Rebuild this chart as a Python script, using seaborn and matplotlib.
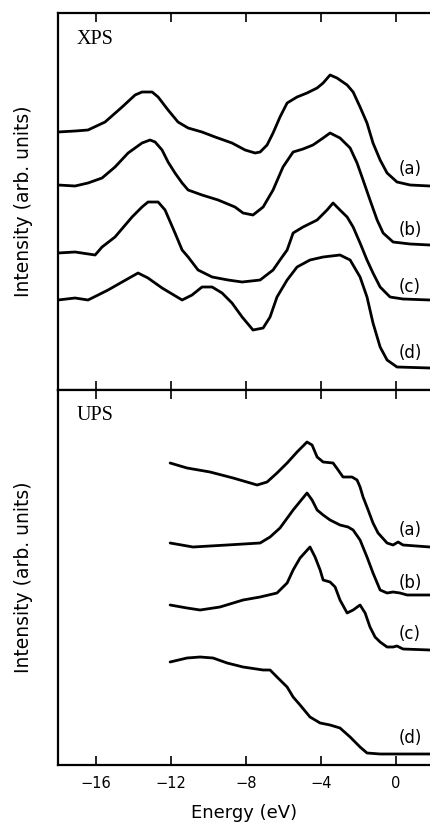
import numpy as np
import pandas as pd
import matplotlib
matplotlib.use("Agg")
import matplotlib.pyplot as plt
import seaborn as sns

# ---------------- data ----------------
# XPS panel (arb. units, curves offset vertically)
xps_a_E = [-18.03, -17.12, -16.43, -15.52, -14.61, -13.92, -13.55, -13.01, -12.69, -12.16, -11.63, -11.09,
           -10.35, -9.65, -8.75, -8.05, -7.52, -7.25, -6.88, -6.56, -6.19, -5.81, -5.28, -4.75, -4.21,
           -3.89, -3.52, -3.15, -2.61, -2.29, -1.92, -1.55, -1.23, -0.85, -0.48, 0.05, 0.75, 1.81]
xps_a_I = [258, 259, 260, 268, 283, 295, 298, 298, 293, 280, 268, 262,
           258, 253, 247, 240, 237, 238, 245, 257, 273, 287, 293, 297, 302,
           307, 315, 312, 305, 298, 283, 267, 247, 230, 217, 208, 205, 204]

xps_b_E = [-18.03, -17.12, -16.43, -15.68, -14.99, -14.29, -13.55, -13.12, -12.85, -12.48, -12.16, -11.79,
           -11.41, -11.09, -10.35, -9.49, -8.59, -8.16, -7.63, -7.09, -6.56, -6.03, -5.49, -4.96, -4.43,
           -3.89, -3.52, -2.99, -2.45, -2.08, -1.76, -1.39, -1.01, -0.69, -0.16, 0.75, 1.81]
xps_b_I = [205, 204, 207, 212, 223, 237, 247, 250, 248, 240, 228, 217,
           207, 200, 195, 190, 183, 177, 175, 183, 200, 223, 238, 241, 245,
           252, 257, 252, 242, 227, 210, 190, 170, 157, 148, 146, 145]

xps_c_E = [-18.03, -17.12, -16.05, -15.68, -14.99, -14.08, -13.55, -13.23, -12.69, -12.32, -11.79, -11.41,
           -11.09, -10.56, -9.81, -8.96, -8.21, -7.25, -6.56, -6.19, -5.81, -5.49, -4.96, -4.21, -3.68,
           -3.36, -2.99, -2.61, -2.29, -1.92, -1.55, -1.23, -0.85, -0.32, 0.37, 1.81]
xps_c_I = [137, 138, 135, 143, 153, 173, 183, 188, 188, 180, 157, 140,
           133, 120, 113, 110, 108, 110, 120, 130, 140, 157, 163, 170, 180,
           187, 180, 173, 163, 147, 130, 117, 103, 93, 91, 90]

xps_d_E = [-18.03, -17.12, -16.43, -15.89, -15.36, -14.61, -13.76, -13.23, -12.48, -11.41, -10.88, -10.35,
           -9.81, -9.28, -8.75, -8.21, -7.63, -7.09, -6.72, -6.35, -5.81, -5.28, -4.59, -3.89, -2.99,
           -2.45, -1.92, -1.55, -1.23, -0.85, -0.48, 0.05, 1.81]
xps_d_I = [90, 92, 90, 95, 100, 108, 117, 112, 102, 90, 95, 103,
           103, 97, 87, 73, 60, 62, 73, 93, 110, 123, 130, 133, 135,
           130, 113, 93, 67, 43, 30, 23, 22]

# UPS panel (arb. units, curves offset vertically)
ups_a_E = [-12.05, -11.15, -9.92, -8.69, -7.41, -6.88, -6.35, -5.81, -5.28, -4.75, -4.48, -4.21, -3.89,
           -3.36, -3.09, -2.83, -2.35, -2.08, -1.92, -1.76, -1.49, -1.23, -0.96, -0.48, -0.16, 0.11,
           0.37, 1.81]
ups_a_I = [302, 297, 293, 287, 280, 283, 292, 302, 313, 323, 320, 308, 303,
           302, 295, 288, 288, 285, 278, 268, 255, 242, 232, 222, 220, 223,
           220, 218]

ups_b_E = [-12.05, -10.83, -9.01, -7.25, -6.72, -6.19, -5.49, -4.75, -4.48, -4.21, -3.89, -3.52, -2.99,
           -2.56, -2.29, -1.92, -1.55, -1.23, -0.85, -0.48, -0.16, 0.21, 0.59, 1.81]
ups_b_I = [222, 218, 220, 222, 228, 237, 255, 272, 265, 255, 250, 245, 240,
           238, 235, 225, 208, 192, 175, 172, 173, 172, 170, 170]

ups_c_E = [-12.05, -11.15, -10.45, -9.39, -8.16, -7.25, -6.35, -5.81, -5.49, -5.12, -4.59, -4.32, -4.05,
           -3.89, -3.52, -3.25, -2.99, -2.61, -2.29, -1.92, -1.65, -1.39, -1.12, -0.85, -0.48, -0.16,
           0.05, 0.37, 1.81]
ups_c_I = [160, 157, 155, 158, 165, 168, 172, 182, 195, 207, 218, 208, 195,
           185, 183, 178, 165, 152, 155, 160, 152, 138, 128, 123, 118, 118,
           119, 116, 115]

ups_d_E = [-12.05, -11.15, -10.45, -9.76, -9.01, -8.16, -7.09, -6.72, -6.35, -5.81, -5.49, -5.12, -4.59,
           -4.05, -3.52, -2.99, -2.45, -1.92, -1.55, -0.85, 1.81]
ups_d_I = [103, 107, 108, 107, 102, 98, 95, 95, 88, 78, 68, 60, 48,
           42, 40, 37, 28, 18, 12, 11, 11]

curve_labels = ["(a)", "(b)", "(c)", "(d)"]
xps_label_I = [221, 160, 103, 37]
ups_label_I = [235, 182, 131, 27]
x_ticks = [-16, -12, -8, -4, 0]

# ---------------- figure ----------------
sns.set_theme(style="white")
plt.rcParams["font.family"] = ["DejaVu Sans"]

fig = plt.figure(figsize=(4.30, 8.27), dpi=100)
ax_top = fig.add_axes([58 / 430, 1 - 390 / 827, 372 / 430, 377 / 827])
ax_bot = fig.add_axes([58 / 430, 1 - 765 / 827, 372 / 430, 375 / 827])

xlim = (-18.03, 1.81)

xps = [(xps_a_E, xps_a_I), (xps_b_E, xps_b_I), (xps_c_E, xps_c_I), (xps_d_E, xps_d_I)]
ups = [(ups_a_E, ups_a_I), (ups_b_E, ups_b_I), (ups_c_E, ups_c_I), (ups_d_E, ups_d_I)]

for ax, curves, ylim, labI, name in [(ax_top, xps, (0, 377), xps_label_I, "XPS"),
                                      (ax_bot, ups, (0, 375), ups_label_I, "UPS")]:
    for (E, I), lab, ly in zip(curves, curve_labels, labI):
        df = pd.DataFrame({"E": E, "I": I})
        sns.lineplot(data=df, x="E", y="I", ax=ax, color="black", lw=2.0,
                     estimator=None, sort=False)
        ax.text(0.15, ly, lab, fontsize=12, ha="left", va="center", color="black",
                fontweight="medium")
    ax.set_xlim(*xlim)
    ax.set_ylim(*ylim)
    ax.set_yticks([])
    ax.set_xticks(x_ticks)
    ax.spines["right"].set_visible(False)
    for s in ["left", "top", "bottom"]:
        ax.spines[s].set_color("black")
        ax.spines[s].set_linewidth(1.6)
    ax.text(-17.05, 350, name, fontsize=14.5, family="Liberation Serif",
            ha="left", va="center", color="black")
    ax.set_ylabel("Intensity (arb. units)", fontsize=13.5, color="black")
    ax.yaxis.set_label_coords(-0.068, 0.5)

ax_top.tick_params(axis="x", which="both", top=True, bottom=True, direction="in",
                   length=6.5, width=1.2, labelbottom=False, labeltop=False, color="black")
ax_top.set_xlabel("")
ax_bot.tick_params(axis="x", which="both", top=True, bottom=True, direction="in",
                   length=6.5, width=1.2, labelbottom=True, labelsize=10.5, pad=8,
                   labelcolor="black", color="black")
ax_bot.set_xlabel("Energy (eV)", fontsize=13, color="black")
ax_bot.xaxis.set_label_coords(0.5, -0.105)

fig.savefig("out.png", dpi=100, facecolor="white")
